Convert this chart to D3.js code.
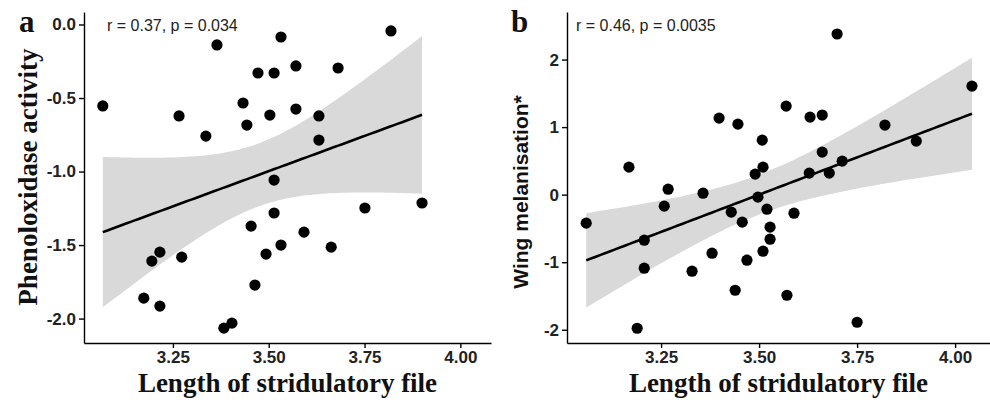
<!DOCTYPE html>
<html><head><meta charset="utf-8">
<script src="https://cdn.jsdelivr.net/npm/d3@7"></script>
<style>body{margin:0;background:#fff}</style>
</head><body>
<svg id="c" width="990" height="400"></svg>
<script>
// Panel a: Phenoloxidase activity vs length of stridulatory file
const fileLenA = [3.067,3.266,3.336,3.365,3.433,3.443,3.532,3.819,3.472,3.514,3.571,3.681,3.503,3.571,3.631,3.631,3.514,3.900,3.195,3.216,3.273,3.174,3.216,3.383,3.404,3.454,3.514,3.592,3.532,3.493,3.663,3.464,3.751];
const poActivity = [-0.554,-0.622,-0.759,-0.139,-0.534,-0.684,-0.085,-0.044,-0.330,-0.330,-0.282,-0.296,-0.616,-0.575,-0.622,-0.786,-1.058,-1.214,-1.609,-1.548,-1.582,-1.861,-1.915,-2.065,-2.031,-1.371,-1.282,-1.412,-1.500,-1.561,-1.514,-1.772,-1.248];
// Panel b: Wing melanisation vs length of stridulatory file
const fileLenB = [3.059,3.168,3.268,3.258,3.207,3.207,3.189,3.357,3.329,3.380,3.398,3.446,3.429,3.439,3.457,3.469,3.490,3.510,3.497,3.520,3.508,3.528,3.528,3.510,3.569,3.589,3.571,3.630,3.661,3.628,3.679,3.661,3.712,3.699,3.821,3.901,4.043,3.750];
const wingMel = [-0.422,0.407,0.081,-0.170,-0.674,-1.089,-1.978,0.022,-1.133,-0.867,1.133,1.044,-0.259,-1.415,-0.407,-0.970,0.304,0.407,-0.037,-0.215,0.807,-0.481,-0.659,-0.837,1.311,-0.274,-1.489,1.148,1.178,0.319,0.319,0.630,0.496,2.378,1.030,0.793,1.607,-1.889];

const xTicks = [3.25,3.5,3.75,4.0];
const xTickLabels = ["3.25","3.50","3.75","4.00"];
const yTicksA = [0,-0.5,-1,-1.5,-2];
const yTickLabelsA = ["0.0","-0.5","-1.0","-1.5","-2.0"];
const yTicksB = [2,1,0,-1,-2];
const yTickLabelsB = ["2","1","0","-1","-2"];
const statsA = "r = 0.37, p = 0.034";
const statsB = "r = 0.46, p = 0.0035";
const tQuantA = 2.0395, tQuantB = 2.0281; // 95% t quantiles, df = n-2

const svg = d3.select("#c");

function lmBand(xs, ys, tq, xmin, xmax){
  const n = xs.length;
  const xb = d3.mean(xs), yb = d3.mean(ys);
  let sxx=0, sxy=0;
  for(let i=0;i<n;i++){ sxx+=(xs[i]-xb)**2; sxy+=(xs[i]-xb)*(ys[i]-yb); }
  const b = sxy/sxx, a = yb - b*xb;
  let sse=0; for(let i=0;i<n;i++){ sse+=(ys[i]-a-b*xs[i])**2; }
  const s = Math.sqrt(sse/(n-2));
  return d3.range(81).map(k=>{
    const x = xmin + (xmax-xmin)*k/80;
    const yh = a + b*x;
    const se = s*Math.sqrt(1/n + (x-xb)**2/sxx);
    return {x, y:yh, lo:yh-tq*se, hi:yh+tq*se};
  });
}

function panel(cfg){
  const g = svg.append("g");
  const x = d3.scaleLinear().domain(cfg.xDom).range(cfg.xRange);
  const y = d3.scaleLinear().domain(cfg.yDom).range([343,12]);
  const band = lmBand(cfg.xs, cfg.ys, cfg.tq, d3.min(cfg.xs), d3.max(cfg.xs));
  g.append("path").datum(band)
    .attr("d", d3.area().x(d=>x(d.x)).y0(d=>y(d.lo)).y1(d=>y(d.hi)))
    .attr("fill","#d9d9d9");
  g.append("path").datum(band)
    .attr("d", d3.line().x(d=>x(d.x)).y(d=>y(d.y)))
    .attr("fill","none").attr("stroke","#000").attr("stroke-width",2.6);
  g.selectAll("circle.pt").data(cfg.xs.map((v,i)=>[v,cfg.ys[i]])).join("circle")
    .attr("class","pt").attr("cx",d=>x(d[0])).attr("cy",d=>y(d[1])).attr("r",5.6).attr("fill","#000");

  const xa = g.append("g").attr("transform","translate(0,343)")
    .call(d3.axisBottom(x).tickValues(xTicks).tickFormat((d,i)=>xTickLabels[i]).tickSize(5).tickPadding(3).tickSizeOuter(0));
  const ya = g.append("g").attr("transform",`translate(${cfg.xRange[0]},0)`)
    .call(d3.axisLeft(y).tickValues(cfg.yTicks).tickFormat((d,i)=>cfg.yLabels[i]).tickSize(5).tickPadding(3).tickSizeOuter(0));
  [xa,ya].forEach(a=>{
    a.select(".domain").attr("stroke","#000").attr("stroke-width",1.4);
    a.selectAll(".tick line").attr("stroke","#000").attr("stroke-width",1.4);
    a.selectAll(".tick text").attr("fill","#222").attr("font-family","Liberation Sans, Arial, sans-serif")
      .attr("font-weight","bold").attr("font-size","17px");
  });

  g.append("text").attr("x",(cfg.xRange[0]+cfg.xRange[1])/2).attr("y",392)
    .attr("text-anchor","middle").attr("font-family","Liberation Serif, Times New Roman, serif")
    .attr("font-weight","bold").attr("font-size","27px").attr("fill","#111").text("Length of stridulatory file");
  g.append("text").attr("transform",`translate(${cfg.yTitleX},${cfg.yTitleY}) rotate(-90)`)
    .attr("text-anchor","middle").attr("font-family",cfg.yTitleFont)
    .attr("font-weight","bold").attr("font-size",cfg.yTitleSize).attr("fill","#111").text(cfg.yTitle);
  g.append("text").attr("x",cfg.tagX).attr("y",32).attr("font-family","Liberation Serif, Times New Roman, serif")
    .attr("font-weight","bold").attr("font-size","31px").attr("fill","#111").text(cfg.tag);
  g.append("text").attr("x",cfg.statX).attr("y",31).attr("font-family","Liberation Sans, Arial, sans-serif")
    .attr("font-size","16px").attr("fill","#222").text(cfg.stat);
}

panel({xs:fileLenA, ys:poActivity, tq:tQuantA, xDom:[3.018,4.080], xRange:[84,491], yDom:[-2.166,0.085],
  yTicks:yTicksA, yLabels:yTickLabelsA, yTitle:"Phenoloxidase activity", yTitleFont:"Liberation Serif, Times New Roman, serif",
  yTitleSize:"27px", yTitleX:37, yTitleY:177, tag:"a", tagX:19, stat:statsA, statX:107});
panel({xs:fileLenB, ys:wingMel, tq:tQuantB, xDom:[3.010,4.089], xRange:[567,990], yDom:[-2.196,2.704],
  yTicks:yTicksB, yLabels:yTickLabelsB, yTitle:"Wing melanisation*", yTitleFont:"Liberation Sans, Arial, sans-serif",
  yTitleSize:"21px", yTitleX:528, yTitleY:192, tag:"b", tagX:511, stat:statsB, statX:576});
</script>
</body></html>
